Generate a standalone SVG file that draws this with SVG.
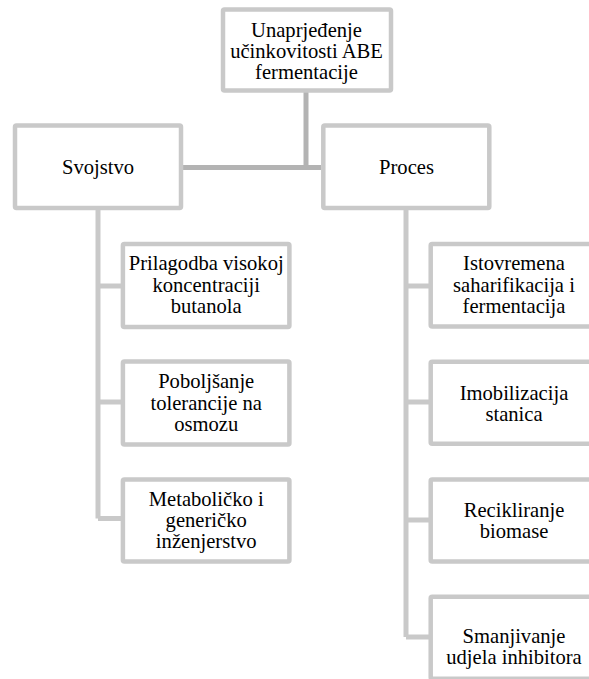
<svg xmlns="http://www.w3.org/2000/svg" width="589" height="679" viewBox="0 0 589 679">
<style>
.box{fill:#ffffff;stroke:#c9c9c9;stroke-width:4.5}
.c1{stroke:#b3b3b3;stroke-width:5;fill:none}
.c2{stroke:#c9c9c9;stroke-width:5;fill:none}
.t{font-size:20.6px;fill:#000;text-anchor:middle}
</style>
<rect width="589" height="679" fill="#ffffff"/>
<g id="connectors">
<path class="c1" d="M306 92 V167.5 M183 167.5 H321"/>
<path class="c2" d="M98 209 V518.5 M98 286 H121 M98 402 H121 M98 518.5 H121"/>
<path class="c2" d="M406 209 V637 M406 286 H429 M406 402 H429 M406 520 H429 M406 637 H429"/>
</g>
<g font-family="'Liberation Serif', 'DejaVu Serif', serif">
<g id="root">
<rect class="box" x="223" y="9.5" width="168" height="81" rx="1.5"/>
<text class="t" x="306.5" y="37">Unaprjeđenje</text>
<text class="t" x="306.5" y="58">učinkovitosti ABE</text>
<text class="t" x="306.5" y="79">fermentacije</text>
</g>
<g id="svojstvo">
<rect class="box" x="15" y="125.5" width="166" height="82.5" rx="1.5"/>
<text class="t" x="98" y="173.5">Svojstvo</text>
</g>
<g id="proces">
<rect class="box" x="323.3" y="125.5" width="166" height="82.5" rx="1.5"/>
<text class="t" x="406.5" y="173.5">Proces</text>
</g>
<g id="prilagodba">
<rect class="box" x="122.9" y="243.9" width="166.5" height="83" rx="1.5"/>
<text class="t" x="206.2" y="270">Prilagodba visokoj</text>
<text class="t" x="206.2" y="291.5">koncentraciji</text>
<text class="t" x="206.2" y="313">butanola</text>
</g>
<g id="poboljsanje">
<rect class="box" x="122.9" y="361.5" width="166.5" height="83" rx="1.5"/>
<text class="t" x="206.2" y="388">Poboljšanje</text>
<text class="t" x="206.2" y="409.5">tolerancije na</text>
<text class="t" x="206.2" y="431">osmozu</text>
</g>
<g id="metabolicko">
<rect class="box" x="122.9" y="479.5" width="166.5" height="82" rx="1.5"/>
<text class="t" x="206.2" y="505.5">Metaboličko i</text>
<text class="t" x="206.2" y="527">generičko</text>
<text class="t" x="206.2" y="548">inženjerstvo</text>
</g>
<g id="istovremena">
<rect class="box" x="430.7" y="243.9" width="166.5" height="82.5" rx="1.5"/>
<text class="t" x="514" y="270">Istovremena</text>
<text class="t" x="514" y="291.5">saharifikacija i</text>
<text class="t" x="514" y="313">fermentacija</text>
</g>
<g id="imobilizacija">
<rect class="box" x="430.7" y="361.7" width="166.5" height="82" rx="1.5"/>
<text class="t" x="514" y="399.5">Imobilizacija</text>
<text class="t" x="514" y="420.5">stanica</text>
</g>
<g id="recikliranje">
<rect class="box" x="430.7" y="479.5" width="166.5" height="82" rx="1.5"/>
<text class="t" x="514" y="516.5">Recikliranje</text>
<text class="t" x="514" y="537.5">biomase</text>
</g>
<g id="smanjivanje">
<rect class="box" x="430.7" y="596.7" width="166.5" height="82" rx="1.5"/>
<text class="t" x="514" y="643">Smanjivanje</text>
<text class="t" x="514" y="663.5">udjela inhibitora</text>
</g>
</g>
</svg>
